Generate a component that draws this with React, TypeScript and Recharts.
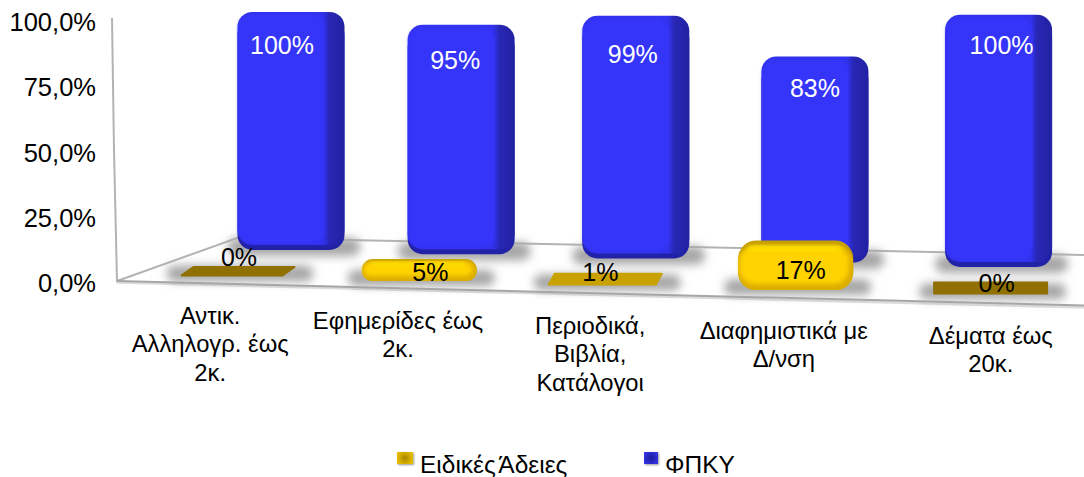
import React from "react";
import { ComposedChart, Bar, XAxis, YAxis, Legend, LabelList } from "recharts";

const categories = [
  "Αντικ.\nΑλληλογρ. έως\n2κ.",
  "Εφημερίδες έως\n2κ.",
  "Περιοδικά,\nΒιβλία,\nΚατάλογοι",
  "Διαφημιστικά με\nΔ/νση",
  "Δέματα έως\n20κ.",
];
const fpkyValues = [100, 95, 99, 83, 100];
const specialValues = [0, 5, 1, 17, 0];
const yTicks = [0, 25, 50, 75, 100];
const rows = categories.map((category, i) => ({
  category,
  fpky: fpkyValues[i],
  special: specialValues[i],
}));

const FONT = "'Liberation Sans', Arial, sans-serif";
const LAST = categories.length - 1;
const bow = (t: number) => -36 * t * (1 - t);
const backX = (cx: number, t: number) => cx + 82 - 70 * t + bow(t);
const frontX = (cx: number, t: number) => cx + 29 - 25 * t + bow(t);
const backBase = (t: number) => 250 + 17 * t;
const frontBase = (t: number) => 276.5 + 18 * t;
const frontLabelNudge = [[1, -20], [11, -9], [-5, -14], [5, -20], [6, -12]];
const backLabelNudge = [-1, 1, 4, -2, -4];
const tickNudge = [0, 1, 1, -3, 1];

function BackBar(props: any) {
  const { x, width, height, index } = props;
  const t = index / LAST;
  const cx = backX(x + width / 2, t);
  const h = height * (0.912 + 0.054 * t);
  const w = 107;
  const left = cx - w / 2;
  const base = backBase(t);
  const top = base - h;
  return (
    <g>
      <rect x={left - 10} y={base - 12} width={w + 26} height={18} rx={9} fill="#a6a6a6" filter="url(#softShadow)" />
      <rect x={left} y={top + 8} width={w} height={h - 8} rx={15} fill="#2222a8" />
      <rect x={left} y={top} width={w} height={h - 5} rx={15} fill="url(#blueSide)" />
      <rect x={left + 1} y={top + 3} width={w - 21} height={h - 10} rx={13} fill="#3434fa" filter="url(#softFace)" />
    </g>
  );
}

function FrontBar(props: any) {
  const { x, width, height, index, value } = props;
  const t = index / LAST;
  const cx = frontX(x + width / 2, t);
  const v = Array.isArray(value) ? value[1] - value[0] : value;
  const w = 115;
  const left = cx - w / 2;
  const base = frontBase(t);
  const h = 10.5 + height * 0.88 + (v === 0 ? 2.5 * t : 0);
  const top = base - h;
  const shadow = (
    <rect x={left - 14} y={base - 11} width={w + 32} height={16} rx={8} fill="#a6a6a6" filter="url(#softShadow)" />
  );
  if (v <= 1) {
    const skew = 12 * (1 - t);
    const points = [
      [left + skew + 1, top + 1],
      [left + w - 1, top + 1],
      [left + w - skew - 1, base - 1],
      [left + 1, base - 1],
    ].map((p) => p.join(",")).join(" ");
    const colour = v === 0 ? "#907100" : "#c9a100";
    return (
      <g>
        {shadow}
        <polygon points={points} fill={colour} stroke={colour} strokeWidth={2} strokeLinejoin="round" />
      </g>
    );
  }
  const faceTop = top + h * 0.1;
  const faceH = base - faceTop;
  const bottomEdge = Math.min(6, faceH * 0.25);
  return (
    <g>
      {shadow}
      <rect x={left} y={top} width={w} height={h} rx={Math.min(18, h / 2)} fill="#c6a000" />
      <rect x={left} y={faceTop} width={w} height={faceH} rx={Math.min(17, faceH / 2)} fill="#dcae00" />
      <rect x={left + 1.5} y={faceTop + 1} width={w - 6} height={faceH - 1 - bottomEdge} rx={Math.min(15, (faceH - bottomEdge) / 2)} fill="#ffd300" filter="url(#softGold)" />
      <rect x={left + 10} y={faceTop + 1} width={w - 22} height={Math.max(3, h * 0.08)} rx={2} fill="#ffe600" filter="url(#softGold)" />
    </g>
  );
}

function BackLabel(props: any) {
  const { x, width, height, index, value } = props;
  const t = index / LAST;
  const cx = backX(x + width / 2, t) - 9 + 12 * t;
  const h = height * (0.912 + 0.054 * t);
  const top = backBase(t) - h;
  return (
    <text x={cx} y={top + 34 + backLabelNudge[index]} textAnchor="middle" dominantBaseline="central" fontFamily={FONT} fontSize={25} fill="#ffffff">
      {value}%
    </text>
  );
}

function FrontLabel(props: any) {
  const { x, width, index, value } = props;
  const t = index / LAST;
  const [dx, dy] = frontLabelNudge[index];
  return (
    <text x={frontX(x + width / 2, t) + dx} y={frontBase(t) + dy} textAnchor="middle" dominantBaseline="central" fontFamily={FONT} fontSize={25} fill="#000000">
      {value}%
    </text>
  );
}

function CategoryTick(props: any) {
  const { x, index, payload } = props;
  const t = index / LAST;
  const lines = String(payload.value).split("\n");
  const cx = x + 1 + 2 * t + bow(t) * 1.2 + tickNudge[index];
  return (
    <text textAnchor="middle" fontFamily={FONT} fontSize={23.8} fill="#000000">
      {lines.map((line, i) => (
        <tspan key={i} x={cx} y={323.5 + 20 * t + i * 28.5}>
          {line}
        </tspan>
      ))}
    </text>
  );
}

function LegendBox({ payload }: any) {
  const items = [...(payload || [])].sort((a: any) => (a.dataKey === "special" ? -1 : 1));
  const lefts = [397, 644];
  return (
    <div>
      {items.map((item: any, i: number) => (
        <div key={item.value} style={{ position: "absolute", left: lefts[i], top: 450, display: "flex", whiteSpace: "nowrap", fontFamily: FONT, fontSize: 24.5, wordSpacing: -3, lineHeight: "30px", color: "#000" }}>
          <span style={{ display: "inline-block", width: i === 0 ? 16 : 14, height: 12, marginTop: 2, marginRight: 7, background: item.dataKey === "special" ? "radial-gradient(circle,#a88800 0%,#d8b000 60%,#f0c800 100%)" : "radial-gradient(circle,#1d1d9a 0%,#2c2cd0 60%,#3a3aee 100%)", boxShadow: "1px 1px 2px #999" }} />
          <span>{item.value}</span>
        </div>
      ))}
    </div>
  );
}

function Scene() {
  return (
    <g>
      <defs>
        <filter id="softShadow" x="-30%" y="-100%" width="160%" height="300%">
          <feGaussianBlur stdDeviation="5" />
        </filter>
        <filter id="softFace" x="-10%" y="-30%" width="120%" height="160%">
          <feGaussianBlur stdDeviation="1.6" />
        </filter>
        <filter id="softGold" x="-10%" y="-40%" width="120%" height="180%">
          <feGaussianBlur stdDeviation="2.2" />
        </filter>
        <linearGradient id="blueSide" x1="0" y1="0" x2="1" y2="0">
          <stop offset="0" stopColor="#3232ee" />
          <stop offset="0.8" stopColor="#3232ee" />
          <stop offset="0.86" stopColor="#2727b4" />
          <stop offset="1" stopColor="#2222a4" />
        </linearGradient>
      </defs>
      <line x1={117} y1={282.5} x2={1084} y2={307.5} stroke="#dcdcdc" strokeWidth={2.5} />
      <polyline points="112,18 114,150 117,281 240,237 347,240 1084,255" fill="none" stroke="#b3b3b3" strokeWidth={2} />
      <line x1={117} y1={281} x2={1084} y2={305.5} stroke="#a6a6a6" strokeWidth={2} />
    </g>
  );
}

export default function App() {
  return (
    <div style={{ position: "absolute", left: 0, top: 0, width: 1084, height: 477, overflow: "hidden", background: "#fff" }}>
      <ComposedChart
        width={1084}
        height={477}
        data={rows}
        barSize={108}
        barGap={-108}
        margin={{ top: 22, right: 0, bottom: 154, left: 0 }}
      >
        <Scene />
        <XAxis dataKey="category" height={40} axisLine={false} tickLine={false} interval={0} tick={<CategoryTick />} />
        <YAxis
          width={112}
          domain={[0, 100]}
          ticks={yTicks}
          axisLine={false}
          tickLine={false}
          tickMargin={16}
          tickSize={0}
          tick={{ fontFamily: FONT, fontSize: 25.5, fill: "#000" }}
          tickFormatter={(v: number) => v.toFixed(1).replace(".", ",") + "%"}
        />
        <Bar dataKey="fpky" name="ΦΠΚΥ" fill="#3333ff" shape={<BackBar />} isAnimationActive={false}>
          <LabelList dataKey="fpky" content={<BackLabel />} />
        </Bar>
        <Bar dataKey="special" name="Ειδικές Άδειες" fill="#ffd200" shape={<FrontBar />} isAnimationActive={false}>
          <LabelList dataKey="special" content={<FrontLabel />} />
        </Bar>
        <Legend content={<LegendBox />} wrapperStyle={{ left: 0, top: 0, width: 0, height: 0 }} />
      </ComposedChart>
    </div>
  );
}
